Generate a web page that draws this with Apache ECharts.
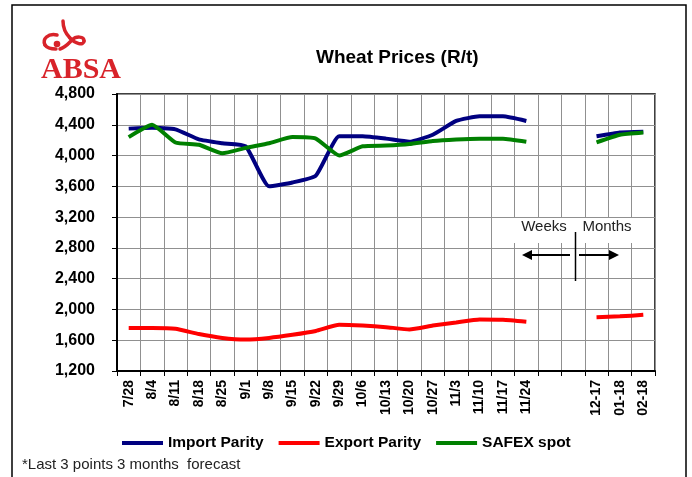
<!DOCTYPE html>
<html lang="en">
<head>
<meta charset="UTF-8">
<title>Wheat Prices</title>
<script src="https://cdn.jsdelivr.net/npm/echarts@6/dist/echarts.min.js"></script>
<style>
  html, body { margin: 0; padding: 0; background: #fff; }
  #chart { width: 692px; height: 477px; }
</style>
</head>
<body>
<div id="chart"></div>
<script>
  // weekly dates, two blank slots, then monthly forecast
  var categories = ['7/28', '8/4', '8/11', '8/18', '8/25', '9/1', '9/8', '9/15', '9/22', '9/29',
    '10/6', '10/13', '10/20', '10/27', '11/3', '11/10', '11/17', '11/24', '', '',
    '12-17', '01-18', '02-18'];

  var importParity = [4350, 4360, 4340, 4210, 4160, 4120, 3600, 3650, 3740, 4250,
    4250, 4220, 4180, 4270, 4450, 4510, 4510, 4450, null, null,
    4250, 4300, 4310];

  var exportParity = [1760, 1760, 1750, 1680, 1630, 1610, 1630, 1670, 1720, 1800,
    1790, 1770, 1740, 1790, 1830, 1870, 1865, 1840, null, null,
    1900, 1910, 1930];

  var safexSpot = [4240, 4400, 4170, 4140, 4030, 4100, 4160, 4240, 4220, 4000,
    4120, 4130, 4150, 4190, 4210, 4220, 4220, 4180, null, null,
    4170, 4270, 4300];

  var seriesNames = ['Import Parity', 'Export Parity', 'SAFEX spot'];
  var seriesColors = ['#000080', '#ff0000', '#008000'];

  var font = 'Liberation Sans, Arial, sans-serif';
  var logoRed = '#d8232a';
  var chart = echarts.init(document.getElementById('chart'));

  function lineSeries(i, data) {
    return {
      name: seriesNames[i],
      type: 'line',
      data: data,
      smooth: 0.15,
      symbol: 'none',
      connectNulls: false,
      z: 5,
      lineStyle: { width: 4, color: seriesColors[i] },
      itemStyle: { color: seriesColors[i] }
    };
  }

  function curve(x1, y1, cx1, cy1, cx2, cy2, x2, y2) {
    return {
      type: 'bezierCurve', z: 10,
      shape: { x1: x1, y1: y1, cpx1: cx1, cpy1: cy1, cpx2: cx2, cpy2: cy2, x2: x2, y2: y2 },
      style: { fill: 'none', stroke: logoRed, lineWidth: 3.5, lineCap: 'round' }
    };
  }

  var option = {
    animation: false,
    backgroundColor: '#fff',
    title: {
      text: 'Wheat Prices (R/t)',
      left: 311,
      top: 43,
      textStyle: { fontFamily: font, fontWeight: 'bold', fontSize: 19, color: '#000' }
    },
    legend: {
      left: 117,
      top: 430,
      icon: 'rect',
      itemWidth: 41,
      itemHeight: 4,
      itemGap: 15,
      data: seriesNames,
      textStyle: { fontFamily: font, fontWeight: 'bold', fontSize: 15.5, color: '#000' }
    },
    grid: {
      left: 117, right: 37, top: 94, bottom: 106,
      show: true,
      borderColor: '#000',
      borderWidth: 1.5
    },
    xAxis: {
      type: 'category',
      data: categories,
      boundaryGap: true,
      axisLine: { lineStyle: { color: '#000', width: 2 } },
      axisTick: { show: true, interval: 0, length: 5, lineStyle: { color: '#000', width: 1 } },
      axisLabel: {
        interval: 0, rotate: 90, margin: 9,
        fontFamily: font, fontWeight: 'bold', fontSize: 14, color: '#000'
      },
      splitLine: { show: true, interval: 0, lineStyle: { color: '#909090', width: 1 } }
    },
    yAxis: {
      type: 'value',
      min: 1200, max: 4800, interval: 400,
      axisLine: { show: true, lineStyle: { color: '#000', width: 2 } },
      axisTick: { show: true, length: 5, lineStyle: { color: '#000' } },
      axisLabel: {
        margin: 22,
        fontFamily: font, fontWeight: 'bold', fontSize: 16, color: '#000',
        formatter: function (v) { return String(v).replace(/\B(?=(\d{3})+(?!\d))/g, ','); }
      },
      splitLine: { show: true, lineStyle: { color: '#909090', width: 1 } }
    },
    series: [
      lineSeries(0, importParity),
      lineSeries(1, exportParity),
      lineSeries(2, safexSpot)
    ],
    graphic: [
      // outer frame
      { type: 'rect', shape: { x: 12, y: 5, width: 674, height: 480 },
        style: { fill: 'none', stroke: '#000', lineWidth: 1.5 }, z: 1 },
      // ABSA logo
      { type: 'text', x: 41, y: 70, z: 10,
        style: { text: 'ABSA', font: 'bold 30px "Liberation Serif", serif', fill: logoRed, verticalAlign: 'middle' } },
      curve(57, 35, 48, 33, 42, 39, 45, 45),
      curve(45, 45, 47, 48, 52, 49, 56, 49),
      { type: 'circle', z: 10, shape: { cx: 57, cy: 44, r: 3.3 }, style: { fill: logoRed } },
      curve(63, 21, 63, 28, 66, 34, 70, 38),
      curve(70, 38, 75, 44, 84, 46, 84, 41),
      curve(84, 41, 84, 36, 76, 36, 72, 40),
      curve(72, 40, 69, 43, 66, 47, 60, 49),
      // Weeks / Months annotation
      { type: 'rect', z: 20, shape: { x: 503, y: 218, width: 137, height: 25 },
        style: { fill: '#fff' } },
      { type: 'text', x: 544, y: 227, z: 21,
        style: { text: 'Weeks', font: '15px ' + font, fill: '#222', align: 'center', verticalAlign: 'middle' } },
      { type: 'text', x: 607, y: 227, z: 21,
        style: { text: 'Months', font: '15px ' + font, fill: '#222', align: 'center', verticalAlign: 'middle' } },
      { type: 'line', z: 21, shape: { x1: 575.5, y1: 232, x2: 575.5, y2: 281 },
        style: { stroke: '#000', lineWidth: 1.5 } },
      { type: 'line', z: 21, shape: { x1: 570, y1: 255, x2: 530, y2: 255 },
        style: { stroke: '#000', lineWidth: 2 } },
      { type: 'polygon', z: 21, shape: { points: [[522, 255], [532, 250], [532, 260]] },
        style: { fill: '#000' } },
      { type: 'line', z: 21, shape: { x1: 579, y1: 255, x2: 611, y2: 255 },
        style: { stroke: '#000', lineWidth: 2 } },
      { type: 'polygon', z: 21, shape: { points: [[619, 255], [609, 250], [609, 260]] },
        style: { fill: '#000' } },
      // footnote
      { type: 'text', x: 22, y: 465, z: 10,
        style: { text: '*Last 3 points 3 months  forecast', font: '15px ' + font, fill: '#222', verticalAlign: 'middle' } }
    ]
  };

  chart.setOption(option);
</script>
</body>
</html>
